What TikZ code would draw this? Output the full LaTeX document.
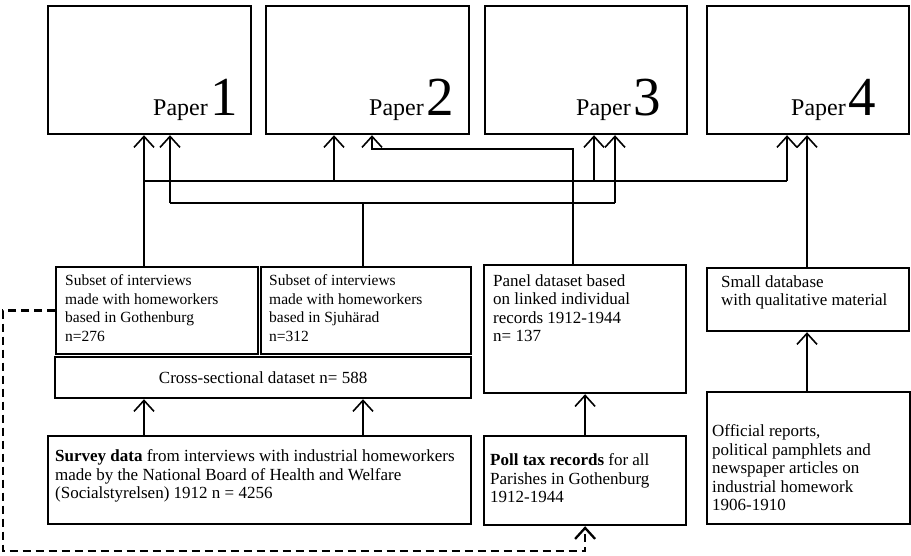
\documentclass[tikz,border=0pt]{standalone}
\usepackage{fontspec}
\setmainfont{Liberation Serif}
\usepackage{tikz}
\usetikzlibrary{calc,positioning,arrows.meta}
\newcommand{\bodyfont}{\fontsize{17}{18.5}\selectfont}
\newcommand{\subfont}{\fontsize{15.5}{18.6}\selectfont}
\newcommand{\papername}[1]{{\fontsize{24}{24}\selectfont Paper} {\fontsize{55}{55}\selectfont #1}}

\begin{document}
\begin{tikzpicture}[x=1pt,y=-1pt,
		box/.style={draw, line width=2.2pt, inner sep=0pt, anchor=north west},
		txt/.style={anchor=north west, align=left, inner sep=0pt, font=\bodyfont},
		link/.style={line width=1.6pt, -{Straight Barb[length=11pt,width=20pt]}},
		bus/.style={line width=1.6pt},
		dashlink/.style={line width=2.3pt, dash pattern=on 8pt off 5pt}]
			\path[use as bounding box] (0,0) rectangle (911,555);
			\node[box, minimum width=203pt, minimum height=128pt] (P1) at (47,5) {};
			\node[box, minimum width=203pt, minimum height=128pt] (P2) at (265,5) {};
			\node[box, minimum width=202pt, minimum height=128pt] (P3) at (484,5) {};
			\node[box, minimum width=202pt, minimum height=128pt] (P4) at (706,5) {};
			\node[anchor=base east, inner sep=0pt] (L1) at (238,115) {\papername{1}};
			\node[anchor=base east, inner sep=0pt] (L2) at (454,115) {\papername{2}};
			\node[anchor=base east, inner sep=0pt] (L3) at (661,115) {\papername{3}};
			\node[anchor=base east, inner sep=0pt] (L4) at (876,115) {\papername{4}};
			\node[box, minimum width=202pt, minimum height=87pt] (S1) at (55,266) {};
			\node[box, minimum width=210pt, minimum height=87pt] (S2) at (260,266) {};
			\node[box, minimum width=416pt, minimum height=41pt] (Cr) at (54,356) {};
			\node[box, minimum width=202pt, minimum height=128pt] (Pn) at (483,264) {};
			\node[box, minimum width=202pt, minimum height=63pt] (Sm) at (706,267) {};
			\node[box, minimum width=423pt, minimum height=88pt] (Su) at (47,435) {};
			\node[box, minimum width=202pt, minimum height=89pt] (Po) at (483,435) {};
			\node[box, minimum width=203pt, minimum height=132pt] (Of) at (706,391) {};
			\node[txt, font=\subfont] (t1) at (65,274.4) {Subset of interviews\\made with homeworkers\\based in Gothenburg\\n=276};
			\node[txt, font=\subfont] (t2) at (269,274.4) {Subset of interviews\\made with homeworkers\\based in Sjuhärad\\n=312};
			\node[txt] (t3) at (493,274.4) {Panel dataset based\\on linked individual\\records 1912-1944\\n= 137};
			\node[txt] (t4) at (721,275) {Small database\\with qualitative material};
			\node[font=\bodyfont, inner sep=0pt] (t5) at (Cr.center) {Cross-sectional dataset n= 588};
			\node[txt] (t6) at (55,449.5) {\textbf{Survey data} from interviews with industrial homeworkers\\made by the National Board of Health and Welfare\\(Socialstyrelsen) 1912 n = 4256};
			\node[txt] (t7) at (490,453.5) {\textbf{Poll tax records} for all\\Parishes in Gothenburg\\1912-1944};
			\node[txt] (t8) at (712,424.5) {Official reports,\\political pamphlets and\\newspaper articles on\\industrial homework\\1906-1910};
			\coordinate (a1) at (144,181);
			\coordinate (a2) at (787,181);
			\coordinate (a3) at (334,181);
			\coordinate (a4) at (594,181);
			\coordinate (b1) at (170,203);
			\coordinate (b2) at (615,203);
			\coordinate (b3) at (363,203);
			\coordinate (k1) at (573,149);
			\coordinate (k2) at (372,149);
			\coordinate (e1) at (807,0);
			\coordinate (g1) at (3,551);
			\draw[link] (a1 |- S1.north) -- (a1 |- P1.south);
			\draw[bus] (a1) -- (a2);
			\draw[link] (a2) -- (a2 |- P4.south);
			\draw[link] (a3) -- (a3 |- P2.south);
			\draw[link] (a4) -- (a4 |- P3.south);
			\draw[bus] (b1) -- (b2);
			\draw[link] (b1) -- (b1 |- P1.south);
			\draw[link] (b2) -- (b2 |- P3.south);
			\draw[bus] (b3 |- S2.north) -- (b3);
			\draw[link] (k1 |- Pn.north) -- (k1) -- (k2) -- (k2 |- P2.south);
			\draw[link] (e1 |- Sm.north) -- (e1 |- P4.south);
			\draw[link] (a1 |- Su.north) -- (a1 |- Cr.south);
			\draw[link] (b3 |- Su.north) -- (b3 |- Cr.south);
			\draw[link] (Po.north) -- (Po.north |- Pn.south);
			\draw[link] (e1 |- Of.north) -- (e1 |- Sm.south);
			\draw[link, dashlink] (S1.west) -| (g1) -| (Po.south);
		\end{tikzpicture}
\end{document}
